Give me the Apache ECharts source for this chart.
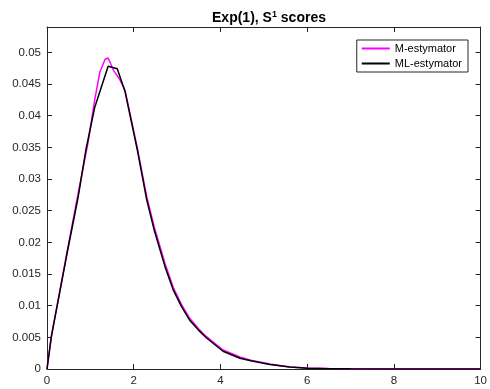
<!DOCTYPE html>
<html>
<head>
<meta charset="utf-8">
<script src="https://cdn.jsdelivr.net/npm/echarts@6/dist/echarts.min.js"></script>
<style>
  html, body { margin: 0; padding: 0; background: #fff; }
  #chart { width: 490px; height: 389px; }
</style>
</head>
<body>
<div id="chart"></div>
<script>
// M-estymator curve
const mX = [0, 0.1, 0.45, 0.72, 0.94, 1.1, 1.22, 1.34, 1.41, 1.53, 1.68, 1.8, 2.08, 2.3, 2.47, 2.72, 2.91, 3.1, 3.29, 3.5, 3.68, 4.06, 4.45, 4.7, 5.14, 5.6, 6, 6.5, 7, 8, 9, 10];
const mY = [0, 0.0051, 0.018, 0.0278, 0.0355, 0.0425, 0.0469, 0.0489, 0.0491, 0.0472, 0.0457, 0.044, 0.035, 0.0272, 0.0225, 0.0167, 0.0129, 0.0102, 0.008, 0.0063, 0.0051, 0.003, 0.0019, 0.0014, 0.0008, 0.0003, 0.00014, 0.00006, 0.00003, 0.00001, 0, 0];
// ML-estymator curve
const mlX = [0, 0.1, 0.45, 0.72, 0.9, 1.1, 1.41, 1.62, 1.8, 2.08, 2.3, 2.47, 2.72, 2.91, 3.1, 3.29, 3.5, 3.68, 4.06, 4.45, 4.7, 5.14, 5.6, 6, 6.5, 7, 8, 9, 10];
const mlY = [0, 0.0051, 0.0178, 0.0272, 0.0347, 0.0413, 0.0478, 0.0474, 0.0438, 0.0347, 0.0267, 0.022, 0.0162, 0.0125, 0.0099, 0.0077, 0.0061, 0.0049, 0.0028, 0.0017, 0.0013, 0.0007, 0.0003, 0.00012, 0.00005, 0.00002, 0, 0, 0];

const seriesNames = ["M-estymator", "ML-estymator"];
const font = "Liberation Sans, Arial, sans-serif";
const ink = "#262626";

function pairs(xs, ys) {
  return xs.map((x, i) => [x, ys[i]]);
}

let chart = echarts.init(document.getElementById("chart"));

const axisBase = {
  axisLine: { show: true, onZero: false, lineStyle: { color: ink, width: 1 } },
  axisTick: { show: true, inside: true, length: 5, lineStyle: { color: ink } },
  splitLine: { show: false }
};

let option = {
  animation: false,
  backgroundColor: "#fff",
  title: {
    text: "{t|Exp(1), S}{s|1}{t| scores}",
    left: 264,
    top: 5,
    textAlign: "center",
    textStyle: {
      rich: {
        t: { fontFamily: font, fontWeight: "bold", fontSize: 14, color: "#000" },
        s: { fontFamily: font, fontWeight: "bold", fontSize: 9, color: "#000", verticalAlign: "top", padding: [0, 0, 7, 0] }
      }
    }
  },
  legend: {
    data: seriesNames,
    orient: "vertical",
    right: 22,
    top: 40,
    itemWidth: 28,
    itemHeight: 2,
    itemGap: 4,
    padding: [3, 6, 3, 5],
    borderColor: ink,
    borderWidth: 1,
    backgroundColor: "#fff",
    icon: "rect",
    textStyle: { fontFamily: font, fontSize: 11, color: "#000" }
  },
  grid: { left: 47, right: 9, top: 27, bottom: 20, containLabel: false },
  xAxis: [
    Object.assign({}, axisBase, {
      type: "value", min: 0, max: 10, interval: 2,
      axisLabel: { fontFamily: font, fontSize: 11.5, color: ink, margin: 6 }
    }),
    Object.assign({}, axisBase, {
      type: "value", position: "top", min: 0, max: 10, interval: 2,
      axisLabel: { show: false }
    })
  ],
  yAxis: [
    Object.assign({}, axisBase, {
      type: "value", min: 0, max: 0.054, interval: 0.005,
      axisLabel: { fontFamily: font, fontSize: 11.5, color: ink, margin: 6, showMaxLabel: false }
    }),
    Object.assign({}, axisBase, {
      type: "value", position: "right", min: 0, max: 0.054, interval: 0.005,
      axisLabel: { show: false }
    })
  ],
  series: [
    {
      name: seriesNames[0],
      type: "line",
      data: pairs(mX, mY),
      showSymbol: false,
      lineStyle: { color: "#ff00ff", width: 1.5 },
      itemStyle: { color: "#ff00ff" }
    },
    {
      name: seriesNames[1],
      type: "line",
      data: pairs(mlX, mlY),
      showSymbol: false,
      lineStyle: { color: "#000000", width: 1.5 },
      itemStyle: { color: "#000000" }
    }
  ]
};
chart.setOption(option);
</script>
</body>
</html>
